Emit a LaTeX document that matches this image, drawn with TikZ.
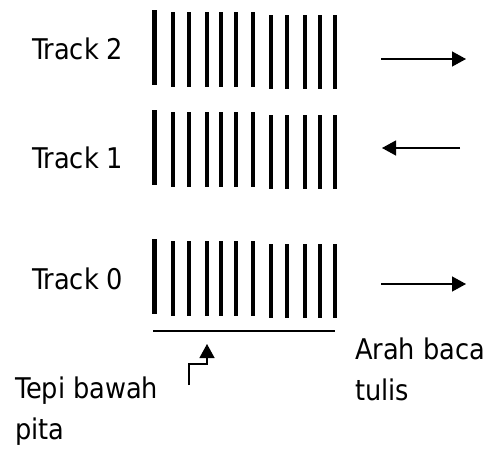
\documentclass[tikz,border=0pt]{standalone}
\usepackage{fontspec}
\setmainfont{DejaVu Sans Condensed}
\usetikzlibrary{arrows.meta}
\begin{document}
\begin{tikzpicture}[x=1pt,y=-1pt,
  lbl/.style={anchor=base west,inner sep=0pt,font=\fontsize{28.5}{40.5}\selectfont,align=left},
  bar/.style={line width=4.5pt},
  arr/.style={line width=1.3pt,-{Triangle[length=14pt,width=15pt]}}]
\useasboundingbox (0,0) rectangle (486,450);
% labels
\node[lbl] (t2) at (32,59) {Track 2};
\node[lbl] (t1) at (32,168) {Track 1};
\node[lbl] (t0) at (32,289) {Track 0};
\node[lbl] (arah) at (355,400) {Arah baca\\tulis};
\node[lbl] (tepi) at (15,439) {Tepi bawah\\pita};
% bars
\foreach \yy in {0,100,229}{
  \foreach \xx [count=\i] in {154.5,173,189,207,221,236,253,271,287,305,320,335}{
    \ifnum\i=1
      \draw[bar] (\xx,10+\yy) -- (\xx,85+\yy);
    \else\ifnum\i<8
      \draw[bar] (\xx,12+\yy) -- (\xx,87+\yy);
    \else
      \draw[bar] (\xx,15+\yy) -- (\xx,89+\yy);
    \fi\fi
  }
}
% tape bottom edge
\coordinate (e1) at (153,331);
\coordinate (e2) at (335,331);
\draw[line width=1.3pt] (e1) -- (e2);
% direction arrows
\coordinate (a2s) at (381,59);  \coordinate (a2e) at (466,59);
\coordinate (a1s) at (460,148); \coordinate (a1e) at (382,148);
\coordinate (a0s) at (381,284); \coordinate (a0e) at (466,284);
\draw[arr] (a2s) -- (a2e);
\draw[arr] (a1s) -- (a1e);
\draw[arr] (a0s) -- (a0e);
% elbow arrow
\coordinate (p1) at (189,385);
\coordinate (p2) at (207,344);
\draw[arr] (p1) |- (207,364) -- (p2);
\end{tikzpicture}
\end{document}
